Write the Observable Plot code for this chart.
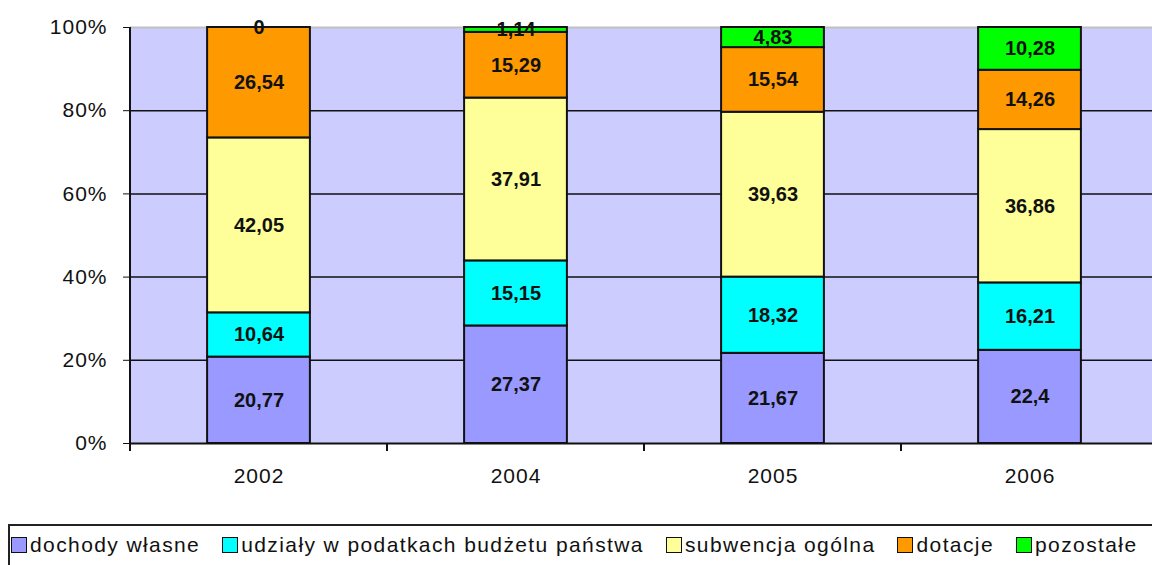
<!DOCTYPE html>
<html>
<head>
<meta charset="utf-8">
<script src="https://cdn.jsdelivr.net/npm/d3@7"></script>
<script src="https://cdn.jsdelivr.net/npm/@observablehq/plot@0.6"></script>
<style>
  html, body { margin: 0; padding: 0; background: #fff; overflow: hidden; }
  #wrap { position: relative; width: 1152px; height: 565px; overflow: hidden; }
  #chart { position: absolute; left: 0; top: 0; width: 1158px; }
  #chart svg { max-width: none !important; }
  #legend {
    position: absolute; left: 8px; top: 524px; width: 1170px; height: 60px;
    border: 2px solid #222; box-sizing: border-box;
    font-family: "Liberation Sans", Arial, sans-serif; font-size: 21px; letter-spacing: 1.4px; color: #111;
    display: flex; align-items: flex-start; padding-top: 7px; padding-left: 1px;
  }
  .item { display: flex; align-items: center; margin-right: 22px; white-space: nowrap; }
  .sw { width: 14px; height: 14px; border: 1.5px solid #111; margin-right: 3px; display: inline-block; }
</style>
</head>
<body>
<div id="wrap"><div id="chart"></div><div id="legend"></div></div>
<script>
const years = ["2002", "2004", "2005", "2006"];
const seriesNames = ["dochody własne", "udziały w podatkach budżetu państwa", "subwencja ogólna", "dotacje", "pozostałe"];
const seriesColors = ["#9999FF", "#00FFFF", "#FFFF99", "#FF9900", "#00FF00"];
const dochodyWlasne = [20.77, 27.37, 21.67, 22.4];
const udzialy = [10.64, 15.15, 18.32, 16.21];
const subwencja = [42.05, 37.91, 39.63, 36.86];
const dotacje = [26.54, 15.29, 15.54, 14.26];
const pozostale = [0, 1.14, 4.83, 10.28];
const yTicks = [0, 0.2, 0.4, 0.6, 0.8, 1];

const seriesValues = [dochodyWlasne, udzialy, subwencja, dotacje, pozostale];
const data = [];
years.forEach((yr, i) => {
  seriesNames.forEach((s, j) => {
    data.push({year: yr, series: s, value: seriesValues[j][i]});
  });
});

const fmt = v => String(v).replace(".", ",");
const stackOpts = {x: "year", y: "value", z: "series", offset: "normalize", order: seriesNames};

function boundaryTicks(index, scales, values, dims) {
  const x = scales.x, y = scales.y;
  const step = x(years[1]) - x(years[0]);
  let bw = typeof x.bandwidth === "function" ? x.bandwidth() : x.bandwidth;
  if (!(bw > 0)) bw = step * 0.4;
  const g = d3.create("svg:g").attr("stroke", "#111").attr("stroke-width", 2);
  const y0 = y(0), y1 = y(1);
  g.append("line").attr("x1", dims.marginLeft).attr("x2", dims.marginLeft)
    .attr("y1", y1).attr("y2", y0 + 8);
  years.forEach(yr => {
    const bx = x(yr) + bw + (step - bw) / 2;
    g.append("line").attr("x1", bx).attr("x2", bx).attr("y1", y0).attr("y2", y0 + 8);
  });
  return g.node();
}

const chart = Plot.plot({
  width: 1158,
  height: 520,
  marginLeft: 130,
  marginRight: 0,
  marginTop: 27,
  marginBottom: 77,
  style: {fontFamily: "Liberation Sans, Arial, sans-serif", fontSize: "21px", color: "#111", overflow: "visible", maxWidth: "none"},
  x: {domain: years, paddingInner: 0.6, paddingOuter: 0.3, round: false, label: null, tickSize: 0, tickPadding: 25},
  y: {domain: [0, 1], ticks: yTicks, tickFormat: d => Math.round(d * 100) + "%", label: null, tickSize: 7, tickPadding: 16},
  color: {domain: seriesNames, range: seriesColors},
  marks: [
    Plot.frame({fill: "#CCCCFF", stroke: null}),
    Plot.ruleY([1], {stroke: "#C0C0C0", strokeWidth: 2}),
    Plot.ruleY(yTicks.filter(d => d > 0 && d < 1), {stroke: "#111", strokeWidth: 1.5}),
    Plot.ruleY([0], {stroke: "#111", strokeWidth: 2}),
    Plot.barY(data, Plot.stackY({...stackOpts, fill: "series", stroke: "#111", strokeWidth: 2, inset: 0})),
    Plot.text(data, Plot.stackY({...stackOpts, text: d => fmt(d.value), fontWeight: "bold", fontSize: 20, fill: "#111"})),
    boundaryTicks
  ]
});
chart.style.maxWidth = "none";
chart.querySelectorAll("[aria-label='x-axis tick label'] text, [aria-label='y-axis tick label'] text").forEach(t => t.setAttribute("letter-spacing", "1"));
document.getElementById("chart").appendChild(chart);

const legend = document.getElementById("legend");
seriesNames.forEach((s, i) => {
  const it = document.createElement("div");
  it.className = "item";
  const sw = document.createElement("span");
  sw.className = "sw";
  sw.style.background = seriesColors[i];
  it.appendChild(sw);
  it.appendChild(document.createTextNode(s));
  legend.appendChild(it);
});
</script>
</body>
</html>
